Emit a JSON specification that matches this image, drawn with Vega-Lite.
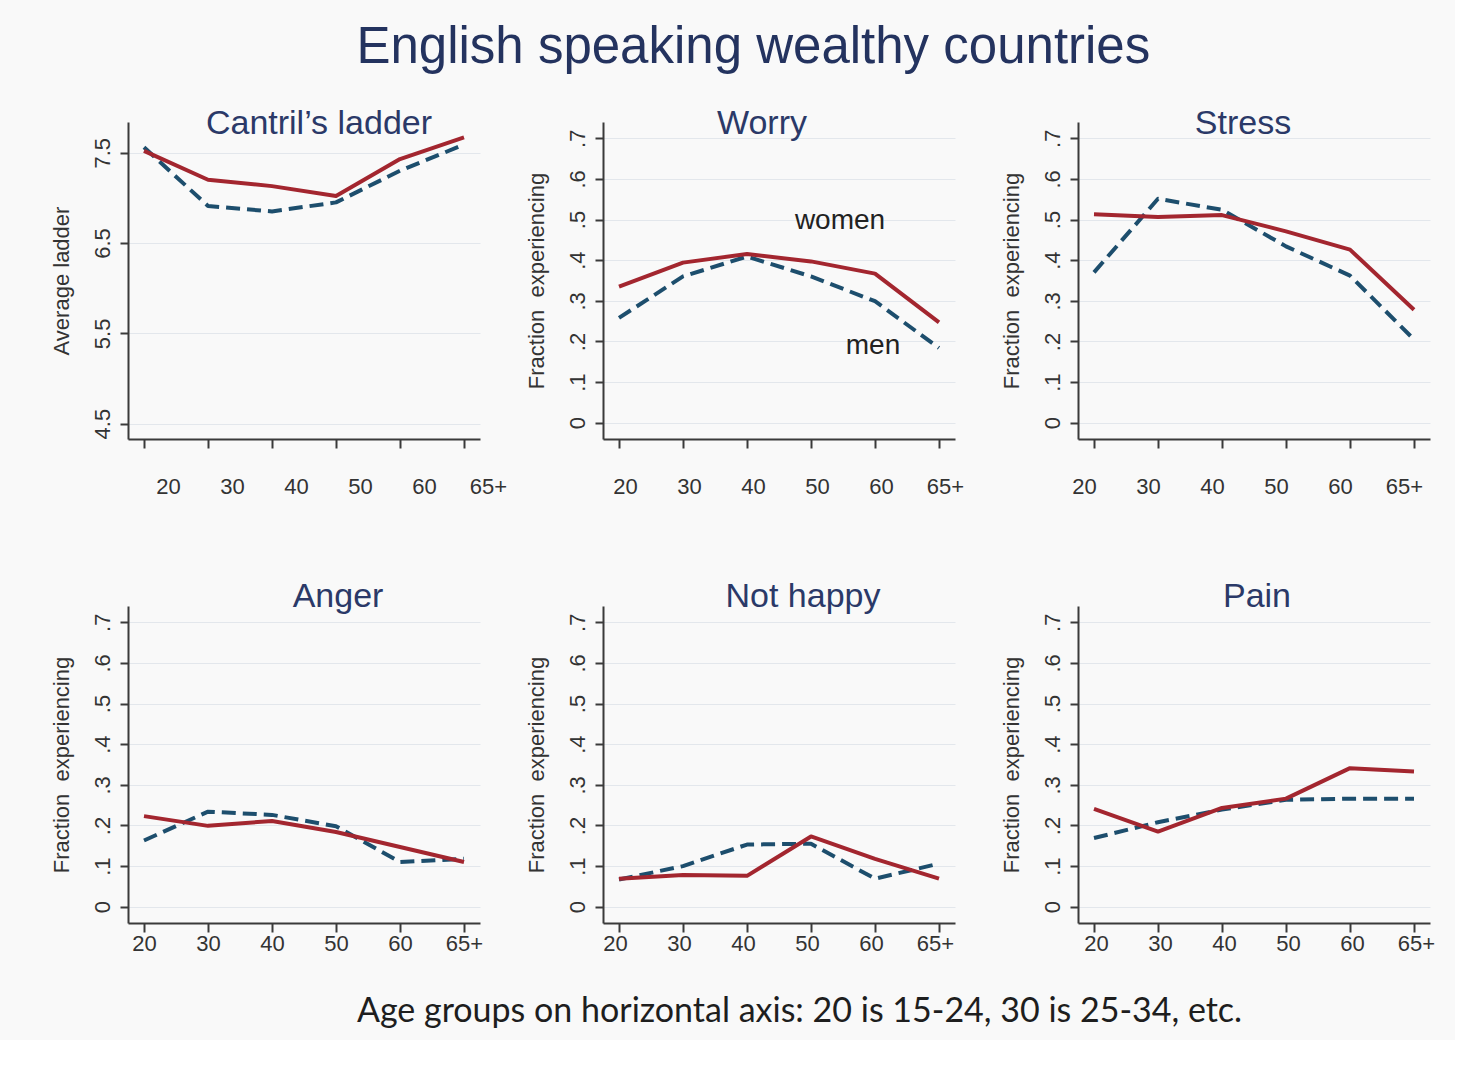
{
  "$schema": "https://vega.github.io/schema/vega-lite/v6.json",
  "background": "#f9f9f9",
  "padding": {"left": 50, "top": 22, "right": 20, "bottom": 12},
  "autosize": {"type": "pad"},
  "title": {
    "text": "English speaking wealthy countries",
    "font": "Liberation Sans",
    "fontSize": 51,
    "fontWeight": "normal",
    "color": "#24335f",
    "anchor": "middle",
    "frame": "bounds",
    "baseline": "alphabetic",
    "dx": 11,
    "offset": -7
  },
  "datasets": {
    "series": [
      {"panel": "Cantril", "sex": "women", "age": "20", "value": 7.52},
      {"panel": "Cantril", "sex": "women", "age": "30", "value": 7.20},
      {"panel": "Cantril", "sex": "women", "age": "40", "value": 7.13},
      {"panel": "Cantril", "sex": "women", "age": "50", "value": 7.02},
      {"panel": "Cantril", "sex": "women", "age": "60", "value": 7.43},
      {"panel": "Cantril", "sex": "women", "age": "65+", "value": 7.67},
      {"panel": "Cantril", "sex": "men", "age": "20", "value": 7.56},
      {"panel": "Cantril", "sex": "men", "age": "30", "value": 6.91},
      {"panel": "Cantril", "sex": "men", "age": "40", "value": 6.85},
      {"panel": "Cantril", "sex": "men", "age": "50", "value": 6.95},
      {"panel": "Cantril", "sex": "men", "age": "60", "value": 7.30},
      {"panel": "Cantril", "sex": "men", "age": "65+", "value": 7.59},
      {"panel": "Worry", "sex": "women", "age": "20", "value": 0.335},
      {"panel": "Worry", "sex": "women", "age": "30", "value": 0.394},
      {"panel": "Worry", "sex": "women", "age": "40", "value": 0.415},
      {"panel": "Worry", "sex": "women", "age": "50", "value": 0.397},
      {"panel": "Worry", "sex": "women", "age": "60", "value": 0.367},
      {"panel": "Worry", "sex": "women", "age": "65+", "value": 0.247},
      {"panel": "Worry", "sex": "men", "age": "20", "value": 0.258},
      {"panel": "Worry", "sex": "men", "age": "30", "value": 0.360},
      {"panel": "Worry", "sex": "men", "age": "40", "value": 0.409},
      {"panel": "Worry", "sex": "men", "age": "50", "value": 0.360},
      {"panel": "Worry", "sex": "men", "age": "60", "value": 0.299},
      {"panel": "Worry", "sex": "men", "age": "65+", "value": 0.184},
      {"panel": "Stress", "sex": "women", "age": "20", "value": 0.513},
      {"panel": "Stress", "sex": "women", "age": "30", "value": 0.506},
      {"panel": "Stress", "sex": "women", "age": "40", "value": 0.511},
      {"panel": "Stress", "sex": "women", "age": "50", "value": 0.471},
      {"panel": "Stress", "sex": "women", "age": "60", "value": 0.426},
      {"panel": "Stress", "sex": "women", "age": "65+", "value": 0.278},
      {"panel": "Stress", "sex": "men", "age": "20", "value": 0.370},
      {"panel": "Stress", "sex": "men", "age": "30", "value": 0.551},
      {"panel": "Stress", "sex": "men", "age": "40", "value": 0.524},
      {"panel": "Stress", "sex": "men", "age": "50", "value": 0.434},
      {"panel": "Stress", "sex": "men", "age": "60", "value": 0.362},
      {"panel": "Stress", "sex": "men", "age": "65+", "value": 0.205},
      {"panel": "Anger", "sex": "women", "age": "20", "value": 0.223},
      {"panel": "Anger", "sex": "women", "age": "30", "value": 0.199},
      {"panel": "Anger", "sex": "women", "age": "40", "value": 0.211},
      {"panel": "Anger", "sex": "women", "age": "50", "value": 0.184},
      {"panel": "Anger", "sex": "women", "age": "60", "value": 0.147},
      {"panel": "Anger", "sex": "women", "age": "65+", "value": 0.110},
      {"panel": "Anger", "sex": "men", "age": "20", "value": 0.163},
      {"panel": "Anger", "sex": "men", "age": "30", "value": 0.234},
      {"panel": "Anger", "sex": "men", "age": "40", "value": 0.226},
      {"panel": "Anger", "sex": "men", "age": "50", "value": 0.198},
      {"panel": "Anger", "sex": "men", "age": "60", "value": 0.110},
      {"panel": "Anger", "sex": "men", "age": "65+", "value": 0.118},
      {"panel": "Not happy", "sex": "women", "age": "20", "value": 0.069},
      {"panel": "Not happy", "sex": "women", "age": "30", "value": 0.078},
      {"panel": "Not happy", "sex": "women", "age": "40", "value": 0.076},
      {"panel": "Not happy", "sex": "women", "age": "50", "value": 0.173},
      {"panel": "Not happy", "sex": "women", "age": "60", "value": 0.118},
      {"panel": "Not happy", "sex": "women", "age": "65+", "value": 0.069},
      {"panel": "Not happy", "sex": "men", "age": "20", "value": 0.067},
      {"panel": "Not happy", "sex": "men", "age": "30", "value": 0.100},
      {"panel": "Not happy", "sex": "men", "age": "40", "value": 0.153},
      {"panel": "Not happy", "sex": "men", "age": "50", "value": 0.155},
      {"panel": "Not happy", "sex": "men", "age": "60", "value": 0.069},
      {"panel": "Not happy", "sex": "men", "age": "65+", "value": 0.106},
      {"panel": "Pain", "sex": "women", "age": "20", "value": 0.241},
      {"panel": "Pain", "sex": "women", "age": "30", "value": 0.185},
      {"panel": "Pain", "sex": "women", "age": "40", "value": 0.243},
      {"panel": "Pain", "sex": "women", "age": "50", "value": 0.266},
      {"panel": "Pain", "sex": "women", "age": "60", "value": 0.341},
      {"panel": "Pain", "sex": "women", "age": "65+", "value": 0.333},
      {"panel": "Pain", "sex": "men", "age": "20", "value": 0.169},
      {"panel": "Pain", "sex": "men", "age": "30", "value": 0.208},
      {"panel": "Pain", "sex": "men", "age": "40", "value": 0.239},
      {"panel": "Pain", "sex": "men", "age": "50", "value": 0.263},
      {"panel": "Pain", "sex": "men", "age": "60", "value": 0.266},
      {"panel": "Pain", "sex": "men", "age": "65+", "value": 0.266}
    ],
    "notes": [
      {"label": "women", "age": "60", "value": 0.496},
      {"label": "men", "age": "60", "value": 0.188}
    ]
  },
  "data": {"name": "series"},
  "columns": 3,
  "bounds": "flush",
  "spacing": {"row": 167, "column": 123},
  "concat": [
    {
      "width": 352, "height": 317,
      "title": {"text": "Cantril’s ladder", "dx": 15},
      "transform": [{"filter": "datum.panel === 'Cantril'"}],
      "encoding": {
        "x": {"field": "age", "type": "ordinal", "sort": ["20", "30", "40", "50", "60", "65+"],
              "scale": {"type": "point", "padding": 0.25},
              "axis": {"title": null, "labelOffset": 24}},
        "y": {"field": "value", "type": "quantitative",
              "scale": {"domain": [4.33, 7.84], "nice": false, "zero": false},
              "axis": {"title": "Average ladder", "values": [4.5, 5.5, 6.5, 7.5], "format": ".1f"}}
      },
      "layer": [
        {"transform": [{"filter": "datum.sex === 'men'"}],
         "mark": {"type": "line", "color": "#1d4e6d", "strokeWidth": 4, "strokeDash": [14, 7]}},
        {"transform": [{"filter": "datum.sex === 'women'"}],
         "mark": {"type": "line", "color": "#a3262f", "strokeWidth": 4}}
      ]
    },
    {
      "width": 352, "height": 317,
      "title": {"text": "Worry", "dx": -17},
      "transform": [{"filter": "datum.panel === 'Worry'"}],
      "encoding": {
        "x": {"field": "age", "type": "ordinal", "sort": ["20", "30", "40", "50", "60", "65+"],
              "scale": {"type": "point", "padding": 0.25},
              "axis": {"title": null, "labelOffset": 6}},
        "y": {"field": "value", "type": "quantitative",
              "scale": {"domain": [-0.04, 0.74], "nice": false, "zero": false},
              "axis": {"title": "Fraction\u00a0 experiencing", "values": [0, 0.1, 0.2, 0.3, 0.4, 0.5, 0.6, 0.7],
                       "labelExpr": "datum.value === 0 ? '0' : replace(format(datum.value, '.1f'), '0.', '.')"}}
      },
      "layer": [
        {"transform": [{"filter": "datum.sex === 'men'"}],
         "mark": {"type": "line", "color": "#1d4e6d", "strokeWidth": 4, "strokeDash": [14, 7]}},
        {"transform": [{"filter": "datum.sex === 'women'"}],
         "mark": {"type": "line", "color": "#a3262f", "strokeWidth": 4}},
        {"data": {"name": "notes"},
         "transform": [{"filter": "datum.label === 'women'"}],
         "mark": {"type": "text", "font": "Liberation Sans", "fontSize": 28, "color": "#222222", "dx": -35, "baseline": "middle"},
         "encoding": {"text": {"field": "label"}}},
        {"data": {"name": "notes"},
         "transform": [{"filter": "datum.label === 'men'"}],
         "mark": {"type": "text", "font": "Liberation Sans", "fontSize": 28, "color": "#222222", "dx": -2, "baseline": "middle"},
         "encoding": {"text": {"field": "label"}}}
      ]
    },
    {
      "width": 352, "height": 317,
      "title": {"text": "Stress", "dx": -11},
      "transform": [{"filter": "datum.panel === 'Stress'"}],
      "encoding": {
        "x": {"field": "age", "type": "ordinal", "sort": ["20", "30", "40", "50", "60", "65+"],
              "scale": {"type": "point", "padding": 0.25},
              "axis": {"title": null, "labelOffset": -10}},
        "y": {"field": "value", "type": "quantitative",
              "scale": {"domain": [-0.04, 0.74], "nice": false, "zero": false},
              "axis": {"title": "Fraction\u00a0 experiencing", "values": [0, 0.1, 0.2, 0.3, 0.4, 0.5, 0.6, 0.7],
                       "labelExpr": "datum.value === 0 ? '0' : replace(format(datum.value, '.1f'), '0.', '.')"}}
      },
      "layer": [
        {"transform": [{"filter": "datum.sex === 'men'"}],
         "mark": {"type": "line", "color": "#1d4e6d", "strokeWidth": 4, "strokeDash": [14, 7]}},
        {"transform": [{"filter": "datum.sex === 'women'"}],
         "mark": {"type": "line", "color": "#a3262f", "strokeWidth": 4}}
      ]
    },
    {
      "width": 352, "height": 317,
      "title": {"text": "Anger", "dx": 34, "offset": -8},
      "transform": [{"filter": "datum.panel === 'Anger'"}],
      "encoding": {
        "x": {"field": "age", "type": "ordinal", "sort": ["20", "30", "40", "50", "60", "65+"],
              "scale": {"type": "point", "padding": 0.25},
              "axis": {"title": null, "labelOffset": 0, "labelPadding": 1}},
        "y": {"field": "value", "type": "quantitative",
              "scale": {"domain": [-0.04, 0.74], "nice": false, "zero": false},
              "axis": {"title": "Fraction\u00a0 experiencing", "values": [0, 0.1, 0.2, 0.3, 0.4, 0.5, 0.6, 0.7],
                       "labelExpr": "datum.value === 0 ? '0' : replace(format(datum.value, '.1f'), '0.', '.')"}}
      },
      "layer": [
        {"transform": [{"filter": "datum.sex === 'men'"}],
         "mark": {"type": "line", "color": "#1d4e6d", "strokeWidth": 4, "strokeDash": [14, 7]}},
        {"transform": [{"filter": "datum.sex === 'women'"}],
         "mark": {"type": "line", "color": "#a3262f", "strokeWidth": 4}}
      ]
    },
    {
      "width": 352, "height": 317,
      "title": {"text": "Not happy", "dx": 24, "offset": -8},
      "transform": [{"filter": "datum.panel === 'Not happy'"}],
      "encoding": {
        "x": {"field": "age", "type": "ordinal", "sort": ["20", "30", "40", "50", "60", "65+"],
              "scale": {"type": "point", "padding": 0.25},
              "axis": {"title": "Age groups on horizontal axis: 20 is 15-24, 30 is 25-34, etc.",
                       "titleFont": "Lato", "titleFontSize": 34, "titleColor": "#1e1e1e",
                       "titleX": 196, "titlePadding": 40,
                       "labelOffset": -4, "labelPadding": 1}},
        "y": {"field": "value", "type": "quantitative",
              "scale": {"domain": [-0.04, 0.74], "nice": false, "zero": false},
              "axis": {"title": "Fraction\u00a0 experiencing", "values": [0, 0.1, 0.2, 0.3, 0.4, 0.5, 0.6, 0.7],
                       "labelExpr": "datum.value === 0 ? '0' : replace(format(datum.value, '.1f'), '0.', '.')"}}
      },
      "layer": [
        {"transform": [{"filter": "datum.sex === 'men'"}],
         "mark": {"type": "line", "color": "#1d4e6d", "strokeWidth": 4, "strokeDash": [14, 7]}},
        {"transform": [{"filter": "datum.sex === 'women'"}],
         "mark": {"type": "line", "color": "#a3262f", "strokeWidth": 4}}
      ]
    },
    {
      "width": 352, "height": 317,
      "title": {"text": "Pain", "dx": 3, "offset": -8},
      "transform": [{"filter": "datum.panel === 'Pain'"}],
      "encoding": {
        "x": {"field": "age", "type": "ordinal", "sort": ["20", "30", "40", "50", "60", "65+"],
              "scale": {"type": "point", "padding": 0.25},
              "axis": {"title": null, "labelOffset": 2, "labelPadding": 1}},
        "y": {"field": "value", "type": "quantitative",
              "scale": {"domain": [-0.04, 0.74], "nice": false, "zero": false},
              "axis": {"title": "Fraction\u00a0 experiencing", "values": [0, 0.1, 0.2, 0.3, 0.4, 0.5, 0.6, 0.7],
                       "labelExpr": "datum.value === 0 ? '0' : replace(format(datum.value, '.1f'), '0.', '.')"}}
      },
      "layer": [
        {"transform": [{"filter": "datum.sex === 'men'"}],
         "mark": {"type": "line", "color": "#1d4e6d", "strokeWidth": 4, "strokeDash": [14, 7]}},
        {"transform": [{"filter": "datum.sex === 'women'"}],
         "mark": {"type": "line", "color": "#a3262f", "strokeWidth": 4}}
      ]
    }
  ],
  "config": {
    "view": {"stroke": null},
    "line": {"strokeJoin": "round"},
    "axis": {
      "domainColor": "#3a3a3a", "domainWidth": 2,
      "tickColor": "#3a3a3a", "tickWidth": 2,
      "labelFont": "Liberation Sans", "labelFontSize": 22, "labelColor": "#333333",
      "titleFont": "Liberation Sans", "titleFontSize": 22, "titleFontWeight": "normal", "titleColor": "#333333",
      "grid": false
    },
    "axisX": {"tickSize": 9, "labelAngle": 0, "labelPadding": 28},
    "axisY": {
      "tickSize": 8, "labelAngle": -90, "labelAlign": "center", "labelBaseline": "bottom", "labelPadding": 6,
      "grid": true, "gridColor": "#e3e7ec", "gridWidth": 1, "titlePadding": 18
    },
    "title": {
      "font": "Liberation Sans", "fontSize": 34, "fontWeight": "normal", "color": "#2b3968",
      "frame": "group", "anchor": "middle", "baseline": "alphabetic", "offset": -19
    }
  }
}
